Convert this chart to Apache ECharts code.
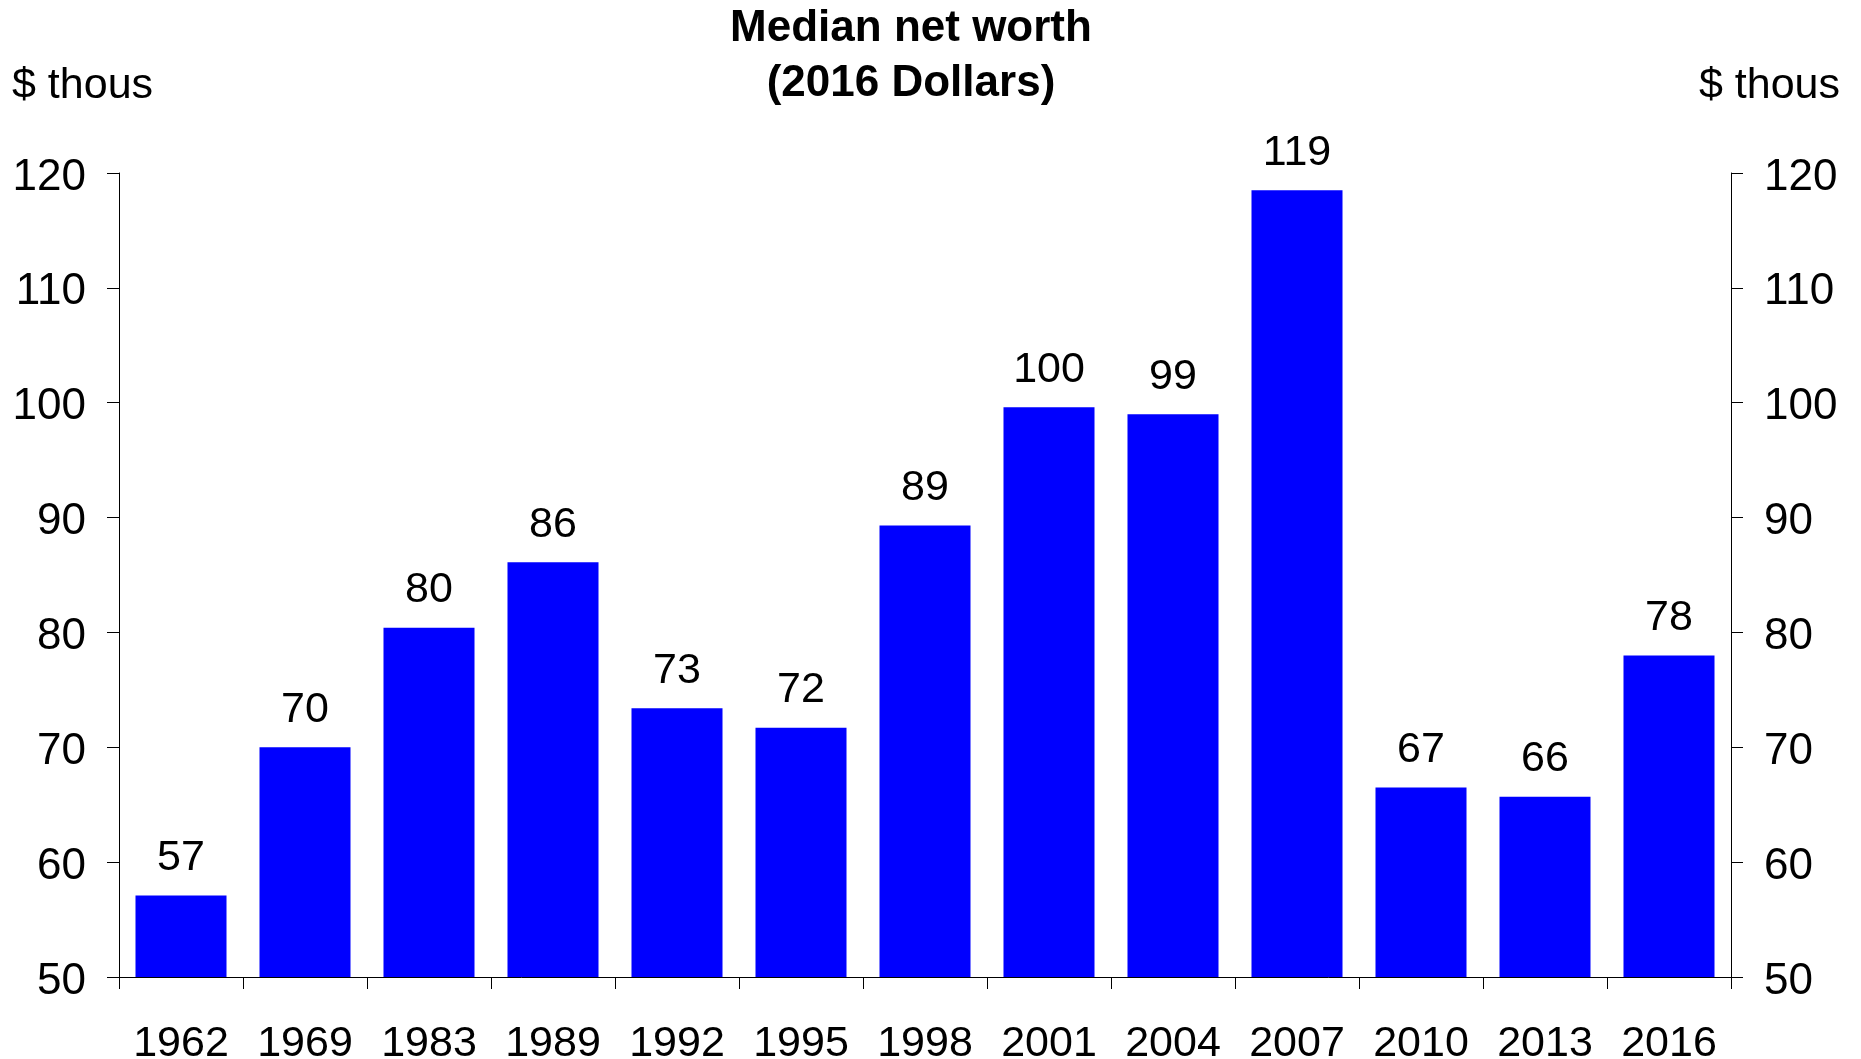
<!DOCTYPE html>
<html>
<head>
<meta charset="utf-8">
<title>Median net worth</title>
<script src="https://cdn.jsdelivr.net/npm/echarts@6/dist/echarts.min.js"></script>
<style>
  html, body { margin: 0; padding: 0; background: #fff; }
  #chart { width: 1861px; height: 1059px; }
</style>
</head>
<body>
<div id="chart"></div>
<script>
// Survey years and median net worth, $ thousands in 2016 dollars
const years = ['1962', '1969', '1983', '1989', '1992', '1995', '1998', '2001', '2004', '2007', '2010', '2013', '2016'];
const medianNetWorth = [57.1, 70.0, 80.4, 86.1, 73.4, 71.7, 89.3, 99.6, 99.0, 118.5, 66.5, 65.7, 78.0];

// Value axis range and step
const yMin = 50;
const yMax = 120;
const yStep = 10;

const FONT = '"Liberation Sans", Arial, Helvetica, sans-serif';

const chart = echarts.init(document.getElementById('chart'), null, { renderer: 'canvas' });

// Tick numbers sit a touch lower so the digits are centred on each tick
const valueAxisBase = {
  type: 'value',
  min: yMin,
  max: yMax,
  interval: yStep,
  splitLine: { show: false },
  axisLine: { show: true, lineStyle: { color: '#000', width: 1 } },
  axisTick: { show: true, length: 12, lineStyle: { color: '#000', width: 1 } },
  axisLabel: {
    color: '#000', fontFamily: FONT, fontSize: 44, margin: 33,
    formatter: v => '{n|' + v + '}',
    rich: { n: { color: '#000', fontFamily: FONT, fontSize: 44, padding: [9, 0, 0, 0] } }
  }
};

chart.setOption({
  animation: false,
  backgroundColor: '#fff',
  grid: { left: 119, right: 130, top: 173, bottom: 82, containLabel: false, outerBoundsMode: 'none' },
  graphic: [
    {
      type: 'text', x: 911, y: 29,
      style: { text: 'Median net worth', font: 'bold 44px ' + FONT, fill: '#000',
               textAlign: 'center', textVerticalAlign: 'middle' }
    },
    {
      type: 'text', x: 911, y: 84,
      style: { text: '(2016 Dollars)', font: 'bold 44px ' + FONT, fill: '#000',
               textAlign: 'center', textVerticalAlign: 'middle' }
    },
    {
      type: 'text', x: 12, y: 86,
      style: { text: '$ thous', font: '43px ' + FONT, fill: '#000',
               textAlign: 'left', textVerticalAlign: 'middle' }
    },
    {
      type: 'text', x: 1840, y: 86,
      style: { text: '$ thous', font: '43px ' + FONT, fill: '#000',
               textAlign: 'right', textVerticalAlign: 'middle' }
    }
  ],
  xAxis: {
    type: 'category',
    data: years,
    boundaryGap: true,
    axisLine: { show: true, lineStyle: { color: '#000', width: 1 } },
    axisTick: { show: true, length: 12, alignWithLabel: false, lineStyle: { color: '#000', width: 1 } },
    axisLabel: { color: '#000', fontFamily: FONT, fontSize: 43, margin: 46, interval: 0 }
  },
  yAxis: [
    Object.assign({}, valueAxisBase, { position: 'left' }),
    Object.assign({}, valueAxisBase, { position: 'right' })
  ],
  series: [
    {
      type: 'bar',
      data: medianNetWorth,
      yAxisIndex: 0,
      barCategoryGap: '26.6%',
      itemStyle: { color: '#0000ff' },
      label: {
        show: true,
        position: 'top',
        distance: 16,
        color: '#000',
        fontFamily: FONT,
        fontSize: 43,
        formatter: p => String(Math.round(p.value))
      }
    }
  ]
});
</script>
</body>
</html>
